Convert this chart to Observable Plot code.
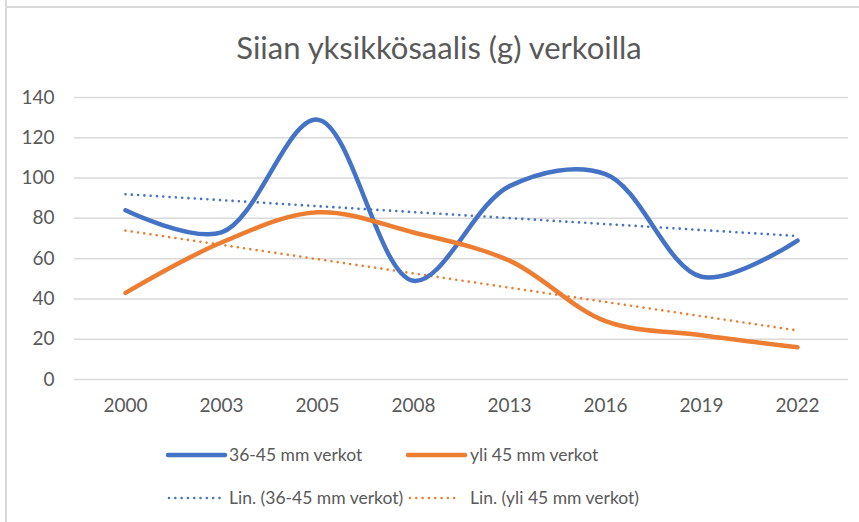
<!DOCTYPE html>
<html>
<head>
<meta charset="utf-8">
<script src="https://cdn.jsdelivr.net/npm/d3@7"></script>
<script src="https://cdn.jsdelivr.net/npm/@observablehq/plot@0.6"></script>
<style>
  html, body { margin: 0; padding: 0; background: #fff; }
  #chart { position: relative; width: 859px; height: 522px; background: #fff; overflow: hidden; font-family: Lato, "Open Sans", sans-serif; color: #595959; }
  #bl { position: absolute; left: 5px; top: 0; width: 2px; height: 522px; background: #d9d9d9; }
  #bt { position: absolute; left: 5px; top: 6px; width: 854px; height: 2px; background: #d9d9d9; }
  #title { position: absolute; left: 0; width: 878px; top: 29px; text-align: center; font-size: 31px; line-height: 36px; color: #595959; }
  #plot { position: absolute; left: 0; top: 70px; }
  .leg { position: absolute; font-size: 17.5px; line-height: 22px; color: #595959; white-space: nowrap; }
  .sw { position: absolute; }
</style>
</head>
<body>
<div id="chart">
  <div id="bl"></div>
  <div id="bt"></div>
  <div id="title">Siian yksikkösaalis (g) verkoilla</div>
  <div id="plot"></div>
</div>
<script>
const years = ["2000", "2003", "2005", "2008", "2013", "2016", "2019", "2022"];
const small = [84, 73, 129, 49, 96, 102, 51, 69];
const large = [43, 68, 83, 73, 59, 29, 22, 16];
const seriesNames = ["36-45 mm verkot", "yli 45 mm verkot"];
const trendNames = ["Lin. (36-45 mm verkot)", "Lin. (yli 45 mm verkot)"];
const colors = ["#4472C4", "#ED7D31"];
const yTicks = [0, 20, 40, 60, 80, 100, 120, 140];

function trend(vals) {
  const n = vals.length;
  const xm = (n - 1) / 2;
  const ym = d3.mean(vals);
  let sxy = 0, sxx = 0;
  vals.forEach((v, i) => { sxy += (i - xm) * (v - ym); sxx += (i - xm) ** 2; });
  const b = sxy / sxx;
  return [0, n - 1].map(i => ({year: years[i], value: ym + b * (i - xm)}));
}

const data = [];
[small, large].forEach((arr, s) => arr.forEach((v, i) => data.push({year: years[i], value: v, series: seriesNames[s]})));
const trends = [];
[small, large].forEach((arr, s) => trend(arr).forEach(d => trends.push({...d, series: trendNames[s]})));

const DOT = "0.01,6.3";

const plot = Plot.plot({
  width: 859,
  height: 355,
  marginLeft: 74,
  marginRight: 11,
  marginTop: 27,
  marginBottom: 46,
  style: {fontFamily: "Lato, 'Open Sans', sans-serif", fontSize: "19px", color: "#595959", background: "transparent"},
  x: {type: "point", domain: years, padding: 0.5, label: null},
  y: {domain: [0, 140], ticks: yTicks, label: null},
  marks: [
    Plot.ruleY(yTicks, {stroke: "#d9d9d9", strokeWidth: 1.5}),
    Plot.axisY({ticks: yTicks, tickSize: 0, tickPadding: 20, fill: "#595959", fontSize: 19, label: null}),
    Plot.axisX({tickSize: 0, tickPadding: 19, fill: "#595959", fontSize: 19, label: null}),
    Plot.line(trends.filter(d => d.series === trendNames[0]), {x: "year", y: "value", stroke: colors[0], strokeWidth: 2.6, strokeDasharray: DOT, strokeLinecap: "round"}),
    Plot.line(trends.filter(d => d.series === trendNames[1]), {x: "year", y: "value", stroke: colors[1], strokeWidth: 2.6, strokeDasharray: DOT, strokeLinecap: "round"}),
    Plot.line(data.filter(d => d.series === seriesNames[0]), {x: "year", y: "value", stroke: colors[0], strokeWidth: 4.5, curve: "catmull-rom", strokeLinecap: "round"}),
    Plot.line(data.filter(d => d.series === seriesNames[1]), {x: "year", y: "value", stroke: colors[1], strokeWidth: 4.5, curve: "catmull-rom", strokeLinecap: "round"})
  ]
});
document.getElementById("plot").appendChild(plot);

// Legend
const chart = document.getElementById("chart");
const legendItems = [
  {name: seriesNames[0], color: colors[0], dotted: false, x: 168, w: 57, tx: 229, y: 455},
  {name: seriesNames[1], color: colors[1], dotted: false, x: 408, w: 57, tx: 470, y: 455},
  {name: trendNames[0], color: colors[0], dotted: true, x: 169, w: 52, tx: 229, y: 498},
  {name: trendNames[1], color: colors[1], dotted: true, x: 410, w: 46, tx: 470, y: 498}
];
legendItems.forEach(it => {
  const ns = "http://www.w3.org/2000/svg";
  const svg = document.createElementNS(ns, "svg");
  svg.setAttribute("class", "sw");
  svg.setAttribute("width", it.w + 6);
  svg.setAttribute("height", 10);
  svg.style.left = (it.x - 3) + "px";
  svg.style.top = (it.y - 5) + "px";
  const ln = document.createElementNS(ns, "line");
  ln.setAttribute("x1", 3); ln.setAttribute("x2", it.w + 3);
  ln.setAttribute("y1", 5); ln.setAttribute("y2", 5);
  ln.setAttribute("stroke", it.color);
  if (it.dotted) {
    ln.setAttribute("stroke-width", 2.6);
    ln.setAttribute("stroke-dasharray", DOT);
    ln.setAttribute("stroke-linecap", "round");
  } else {
    ln.setAttribute("stroke-width", 4.5);
    ln.setAttribute("stroke-linecap", "round");
  }
  svg.appendChild(ln);
  chart.appendChild(svg);
  const t = document.createElement("div");
  t.className = "leg";
  t.textContent = it.name;
  t.style.left = it.tx + "px";
  t.style.top = (it.y - 11) + "px";
  chart.appendChild(t);
});
</script>
</body>
</html>
